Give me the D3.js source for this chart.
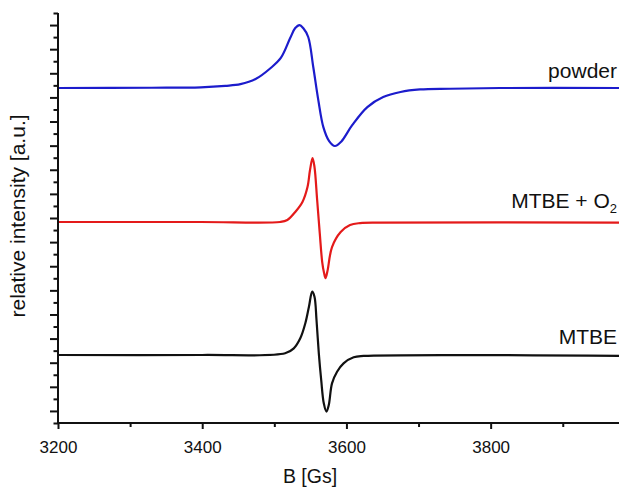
<!DOCTYPE html>
<html>
<head>
<meta charset="utf-8">
<script src="https://cdn.jsdelivr.net/npm/d3@7"></script>
<style>
  body { margin: 0; background: #fff; }
  svg { display: block; font-family: "Liberation Sans", Arial, sans-serif; }
</style>
</head>
<body>
<svg width="619" height="487"></svg>
<script>
// field in Gs, intensity in arbitrary units (curves are stacked with offsets)
var powderB = [3201, 3330, 3398, 3432, 3453, 3474, 3495, 3509, 3522, 3529, 3535, 3540, 3547, 3554, 3561, 3568, 3576, 3584, 3593, 3608, 3629, 3651, 3675, 3702, 3744, 3813, 3978]
var powderI = [27.78, 27.8, 27.84, 27.96, 28.1, 28.52, 29.44, 30.27, 31.92, 32.75, 33.0, 32.75, 32.01, 29.52, 26.78, 24.54, 23.38, 22.97, 23.35, 24.7, 26.2, 27.03, 27.45, 27.66, 27.72, 27.78, 27.78]

var o2B = [3201, 3398, 3508, 3518, 3529, 3539, 3546, 3549.5, 3553, 3555.7, 3559.4, 3563, 3566.4, 3569, 3571, 3573.7, 3580, 3592, 3605, 3619, 3647, 3978]
var o2I = [16.67, 16.67, 16.67, 16.83, 17.5, 18.33, 19.57, 20.98, 21.97, 21.23, 18.49, 15.75, 13.35, 12.44, 12.02, 12.6, 14.59, 15.84, 16.42, 16.58, 16.62, 16.62]

var mtbeB = [3201, 3400, 3515, 3527, 3536, 3543, 3548, 3552.5, 3555.7, 3558.5, 3561.7, 3565, 3568.6, 3572.3, 3575.5, 3580, 3587, 3596, 3610, 3624, 3978]
var mtbeI = [5.64, 5.64, 5.78, 6.19, 7.02, 8.27, 9.64, 10.89, 10.47, 8.54, 5.78, 3.57, 1.63, 0.94, 1.49, 3.29, 4.25, 4.95, 5.45, 5.56, 5.56]

var seriesNames = ["powder", "MTBE + O", "MTBE"]
var seriesColors = ["#1c1ccc", "#e41a1a", "#111111"]

var xMajor = [3200, 3400, 3600, 3800]
var xMinor = [3300, 3500, 3700, 3900]

var svg = d3.select("svg")
var padL = 58, padR = 619, padT = 13, padB = 423

var x = d3.scaleLinear().domain([3200, 3978]).range([padL, padR])
var y = d3.scaleLinear().domain([0, 34]).range([padB, padT])

var yMajor = d3.range(1, 34, 2)
var yMinor = d3.range(0, 35, 2)
var noLabel = function(){ return "" }

// curves
var line = d3.line()
  .x(function(d){ return x(d[0]) })
  .y(function(d){ return y(d[1]) })
  .curve(d3.curveCatmullRom.alpha(0.5))

var all = [[powderB, powderI], [o2B, o2I], [mtbeB, mtbeI]]
all.forEach(function(s, i){
  svg.append("path")
    .datum(d3.zip(s[0], s[1]))
    .attr("d", line)
    .attr("fill", "none")
    .attr("stroke", seriesColors[i])
    .attr("stroke-width", 2.2)
})

// axes
svg.append("g").attr("transform", "translate(0," + padB + ")")
  .call(d3.axisBottom(x).tickValues(xMinor).tickSize(4).tickFormat(noLabel))
var gx = svg.append("g").attr("transform", "translate(0," + padB + ")")
  .call(d3.axisBottom(x).tickValues(xMajor).tickSize(6).tickPadding(12).tickFormat(d3.format("d")))
gx.selectAll("text").attr("font-size", 17).attr("fill", "#111")

svg.append("g").attr("transform", "translate(" + padL + ",0)")
  .call(d3.axisLeft(y).tickValues(yMinor).tickSize(4.5).tickFormat(noLabel))
svg.append("g").attr("transform", "translate(" + padL + ",0)")
  .call(d3.axisLeft(y).tickValues(yMajor).tickSize(8).tickFormat(noLabel))

svg.selectAll(".domain").remove()
svg.selectAll(".tick line").attr("stroke", "#111").attr("stroke-width", 2)

// axis lines
svg.append("line").attr("x1", padL - 1).attr("x2", padR).attr("y1", padB).attr("y2", padB)
  .attr("stroke", "#111").attr("stroke-width", 2)
svg.append("line").attr("x1", padL).attr("x2", padL).attr("y1", padT).attr("y2", padB)
  .attr("stroke", "#111").attr("stroke-width", 2)

// titles
svg.append("text").attr("x", 310).attr("y", 483).attr("text-anchor", "middle")
  .attr("font-size", 19.5).attr("fill", "#111").text("B [Gs]")
svg.append("text").attr("transform", "translate(25,216) rotate(-90)").attr("text-anchor", "middle")
  .attr("font-size", 21).attr("fill", "#111").text("relative intensity [a.u.]")

// series labels
var labelY = [78, 208, 344]
svg.append("text").attr("x", 617).attr("y", labelY[0]).attr("text-anchor", "end")
  .attr("font-size", 21).attr("fill", "#111").text(seriesNames[0])
var t2 = svg.append("text").attr("x", 617).attr("y", labelY[1]).attr("text-anchor", "end")
  .attr("font-size", 21).attr("fill", "#111")
t2.append("tspan").text(seriesNames[1])
t2.append("tspan").attr("font-size", 13).attr("dy", 5).text("2")
svg.append("text").attr("x", 617).attr("y", labelY[2]).attr("text-anchor", "end")
  .attr("font-size", 21).attr("fill", "#111").text(seriesNames[2])
</script>
</body>
</html>
